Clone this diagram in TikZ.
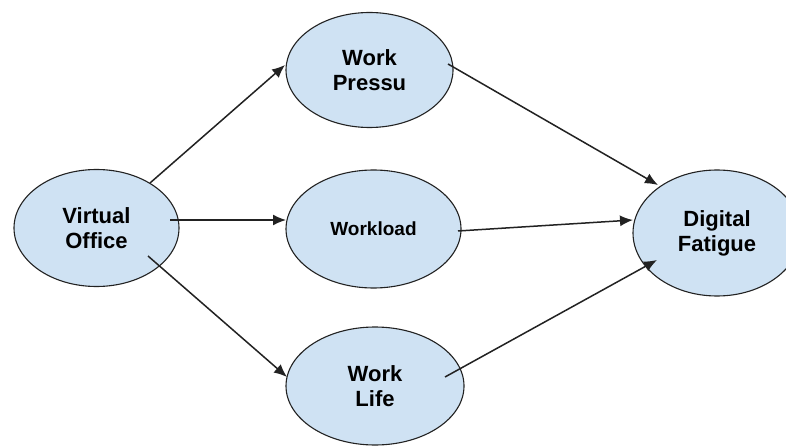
\documentclass[tikz,border=0pt]{standalone}
\usepackage{fontspec}
\setmainfont{Liberation Sans}
\usetikzlibrary{shapes.geometric,arrows.meta,calc}
\definecolor{bubble}{HTML}{CFE2F3}
\definecolor{edge}{HTML}{222222}
\tikzset{
  x=1pt,y=-1pt,
  bub/.style={ellipse,draw=edge,line width=1.1pt,fill=bubble,inner sep=0pt,align=center,
    font=\fontsize{22}{25}\selectfont\bfseries},
  arr/.style={draw=edge,line width=1.5pt,-{Latex[length=13pt,width=11pt]}}
}
\begin{document}
\begin{tikzpicture}
\useasboundingbox (0,0) rectangle (786,446);
\clip (0,0) rectangle (786,446);
\fill[white] (0,0) rectangle (786,446);
\node[bub,minimum width=165,minimum height=117] (vo) at (96.5,228) {Virtual\\Office};
\node[bub,minimum width=167,minimum height=115] (wp) at (369.5,70) {Work\\Pressu};
\node[bub,minimum width=175,minimum height=118,font=\fontsize{19}{22}\selectfont\bfseries] (wl) at (373.5,229) {Workload};
\node[bub,minimum width=178,minimum height=118] (wf) at (375,386) {Work\\Life};
\node[bub,minimum width=168,minimum height=126] (df) at (717,233) {Digital\\Fatigue};
\draw[arr] ($(vo)+(53.5,-45)$) -- ($(wp)+(-84.5,-5)$);
\draw[arr] ($(vo)+(73.5,-8)$) -- ($(wl)+(-87.5,-9)$);
\draw[arr] ($(vo)+(51.5,28)$) -- ($(wf)+(-88,-9)$);
\draw[arr] ($(wp)+(78.5,-6)$) -- ($(df)+(-59,-48)$);
\draw[arr] ($(wl)+(84.5,2)$) -- ($(df)+(-84,-13)$);
\draw[arr] ($(wf)+(70,-9)$) -- ($(df)+(-60,27)$);
\end{tikzpicture}
\end{document}
